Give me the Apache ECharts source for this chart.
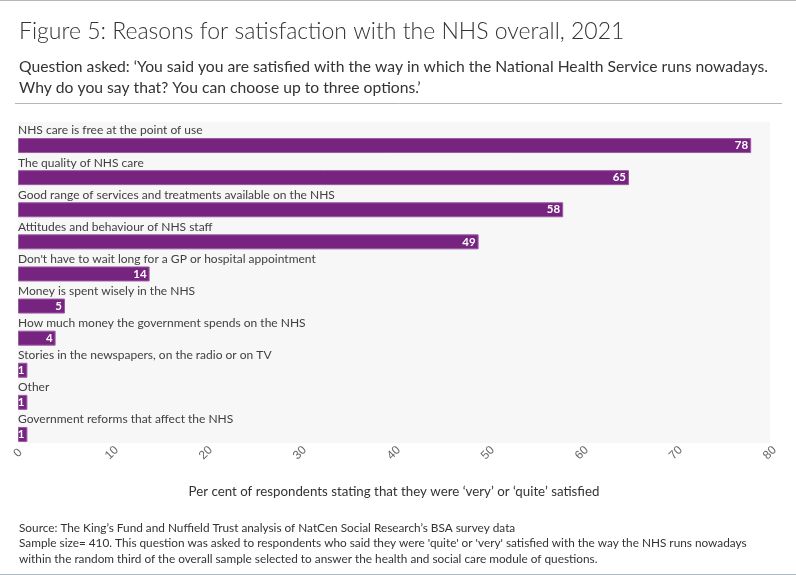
<!DOCTYPE html>
<html lang="en">
<head>
<meta charset="UTF-8">
<title>Figure 5</title>
<script src="https://cdn.jsdelivr.net/npm/echarts@6/dist/echarts.min.js"></script>
<style type="text/css">
body{margin:0; padding:0; background:#fff;}
#main{width:796px;height:575px;}
</style>
</head>
<body>
<div id="main"></div>
<script type="text/javascript">
// data
var categories = [
    'NHS care is free at the point of use',
    'The quality of NHS care',
    'Good range of services and treatments available on the NHS',
    'Attitudes and behaviour of NHS staff',
    "Don't have to wait long for a GP or hospital appointment",
    'Money is spent wisely in the NHS',
    'How much money the government spends on the NHS',
    'Stories in the newspapers, on the radio or on TV',
    'Other',
    'Government reforms that affect the NHS'
];
var values = [78, 65, 58, 49, 14, 5, 4, 1, 1, 1];
var blanks = [0, 0, 0, 0, 0, 0, 0, 0, 0, 0];

var font = 'Lato';
var myChart = echarts.init(document.getElementById('main'));

var option = {
    backgroundColor: '#fff',
    animation: false,
    textStyle: { fontFamily: font },
    title: [
        {
            text: 'Figure 5: Reasons for satisfaction with the NHS overall, 2021',
            left: 14, top: 15,
            textStyle: { fontFamily: font, fontSize: 23, fontWeight: 300, color: '#333' }
        },
        {
            text: 'Question asked: \u2018You said you are satisfied with the way in which the National Health Service runs nowadays.\nWhy do you say that? You can choose up to three options.\u2019',
            left: 14, top: 51,
            textStyle: { fontFamily: font, fontSize: 15.7, fontWeight: 'normal', lineHeight: 21, color: '#333' }
        },
        {
            text: 'Source: The King\u2019s Fund and Nuffield Trust analysis of NatCen Social Research\u2019s BSA survey data\nSample size= 410. This question was asked to respondents who said they were \'quite\' or \'very\' satisfied with the way the NHS runs nowadays\nwithin the random third of the overall sample selected to answer the health and social care module of questions.',
            left: 14, top: 515,
            textStyle: { fontFamily: font, fontSize: 11.8, fontWeight: 'normal', lineHeight: 15.5, color: '#333' }
        }
    ],
    graphic: [
        { type: 'line', shape: { x1: 0, y1: 0.5, x2: 796, y2: 0.5 }, style: { stroke: '#b0b8be', lineWidth: 1 } },
        { type: 'line', shape: { x1: 15, y1: 103.5, x2: 782, y2: 103.5 }, style: { stroke: '#b0b8be', lineWidth: 1 } },
        { type: 'line', shape: { x1: 0, y1: 574.5, x2: 796, y2: 574.5 }, style: { stroke: '#b0b8be', lineWidth: 1 } }
    ],
    grid: {
        left: 18, right: 26, top: 122, bottom: 132,
        show: true, backgroundColor: '#f7f7f7', borderWidth: 0
    },
    xAxis: {
        type: 'value',
        min: 0, max: 80, interval: 10,
        name: 'Per cent of respondents stating that they were \u2018very\u2019 or \u2018quite\u2019 satisfied',
        nameLocation: 'middle',
        nameGap: 42,
        nameTextStyle: { fontFamily: font, fontSize: 13.3, color: '#333' },
        axisLine: { show: false },
        axisTick: { show: false },
        splitLine: { show: false },
        axisLabel: {
            rotate: 45, align: 'center', verticalAlign: 'middle', margin: 10,
            fontFamily: 'Liberation Sans', fontSize: 12, color: '#666'
        }
    },
    yAxis: {
        type: 'category',
        inverse: true,
        data: categories,
        axisLine: { show: false },
        axisTick: { show: false },
        axisLabel: { show: false },
        splitLine: { show: false }
    },
    series: [
        {
            // zero-width bars that carry the category names above each bar
            type: 'bar',
            data: blanks,
            barWidth: 15,
            barGap: 0,
            silent: true,
            itemStyle: { color: 'rgba(0,0,0,0)' },
            label: {
                show: true, position: 'right', distance: 0,
                formatter: '{b}',
                fontFamily: font, fontSize: 12, color: '#404040'
            }
        },
        {
            type: 'bar',
            data: values,
            barWidth: 15,
            barGap: 0,
            itemStyle: { color: '#772481', borderColor: '#9a5aa3', borderWidth: 1 },
            label: {
                show: true, position: 'insideRight', distance: 3,
                fontFamily: font, fontSize: 11.5, fontWeight: 'bold', color: '#fff'
            }
        }
    ]
};
myChart.setOption(option);
</script>
</body>
</html>
